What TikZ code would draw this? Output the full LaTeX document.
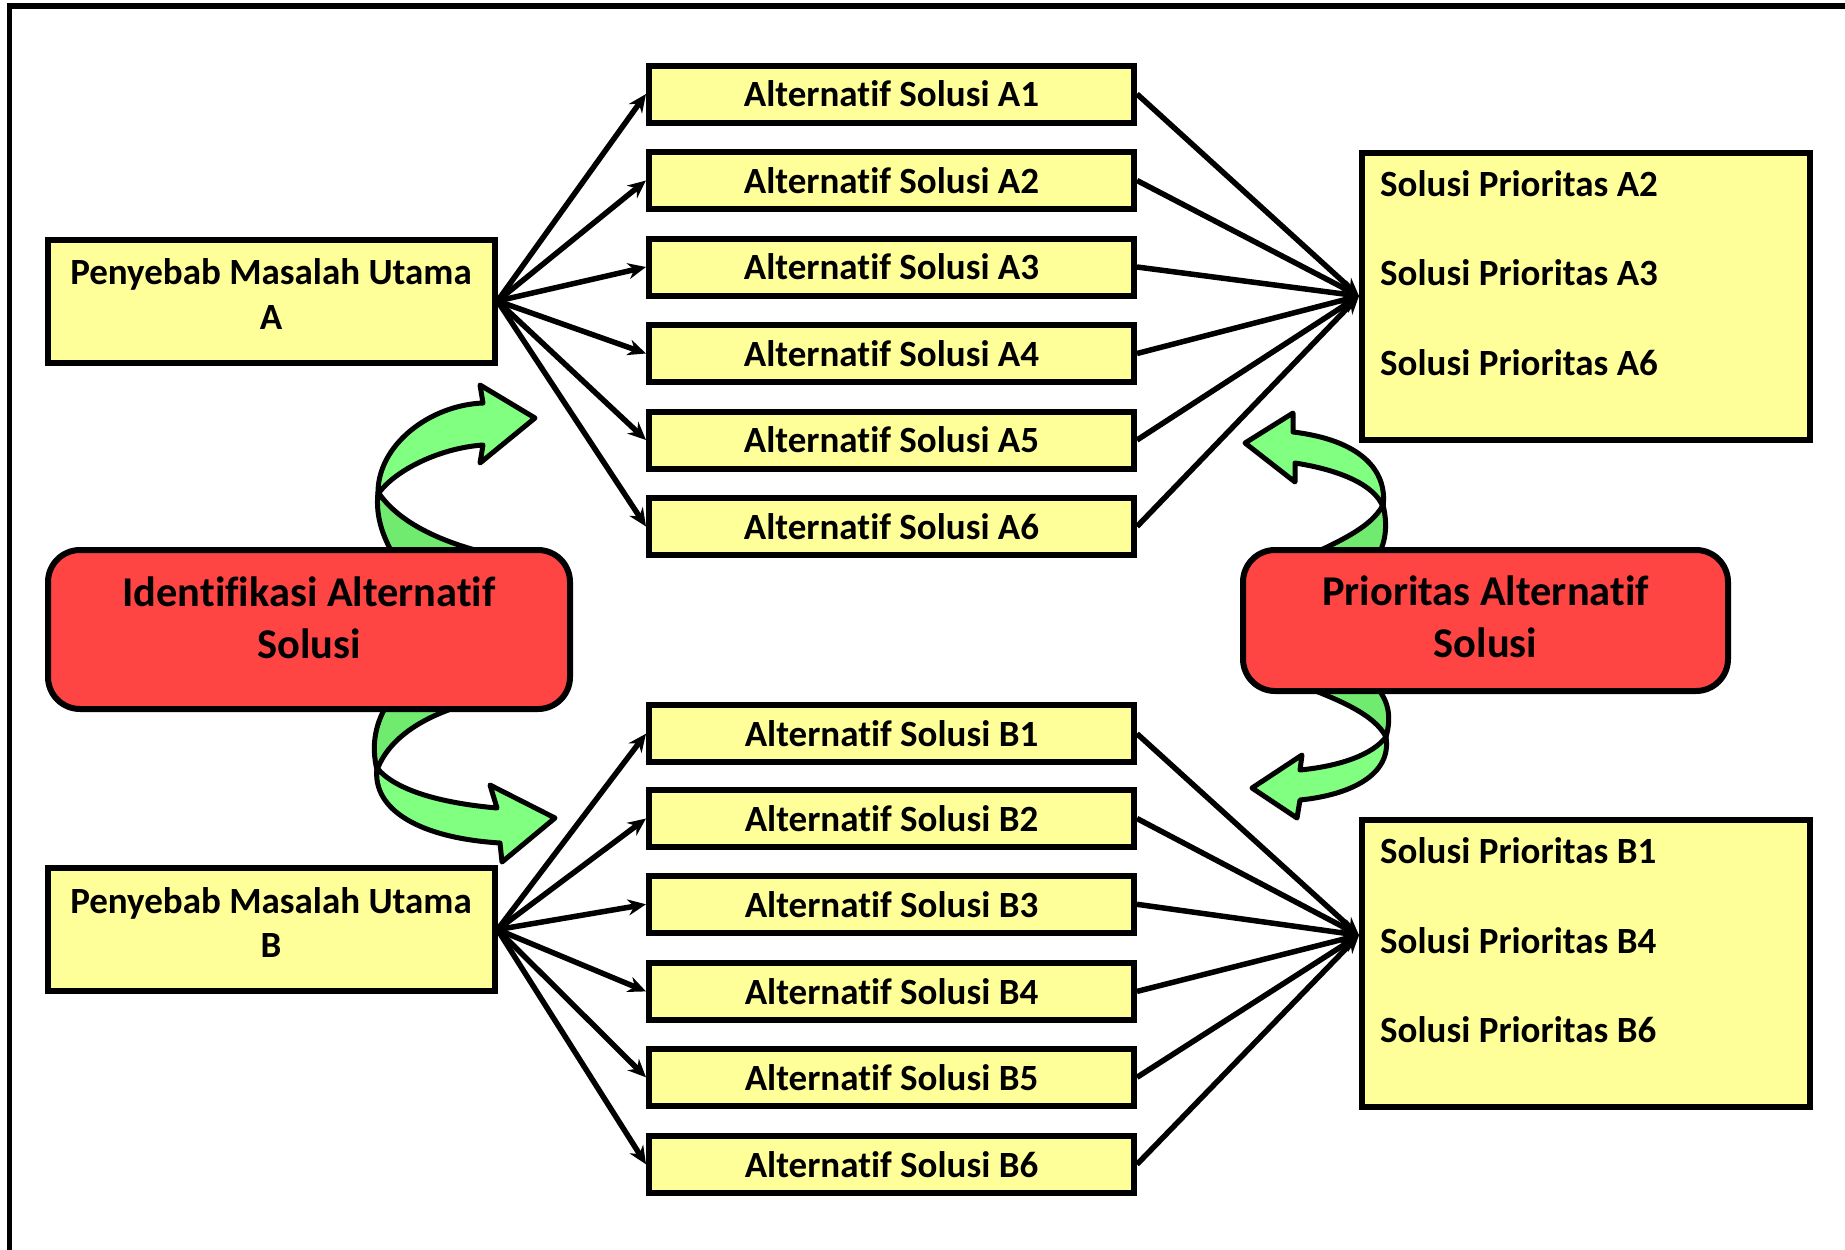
\documentclass[tikz,border=0pt]{standalone}
\usepackage{fontspec}
\setmainfont{Carlito}[Ligatures=NoCommon]
\usetikzlibrary{arrows.meta,calc}
\definecolor{boxyellow}{RGB}{255,255,153}
\definecolor{boxred}{RGB}{255,68,68}
\definecolor{ribbon}{RGB}{128,255,128}
\definecolor{ribbonback}{RGB}{112,235,112}
\begin{document}
\begin{tikzpicture}[x=1pt,y=-1pt,
  altbox/.style={draw, line width=6pt, fill=boxyellow, minimum width=485pt,
    minimum height=57pt, inner sep=0pt, font=\fontsize{37}{44}\selectfont\bfseries},
  causebox/.style={draw, line width=6pt, fill=boxyellow, minimum width=447pt,
    minimum height=123pt, align=center, text depth=14pt,
    font=\fontsize{37}{44.7}\selectfont\bfseries},
  prbox/.style={draw, line width=6pt, fill=boxyellow, minimum width=448pt,
    minimum height=287pt},
  prtext/.style={anchor=west, inner sep=0pt, font=\fontsize{37}{44}\selectfont\bfseries},
  stagebox/.style={draw, line width=6pt, fill=boxred, rounded corners=32pt,
    align=center, font=\fontsize{42.4}{52}\selectfont\bfseries},
  link/.style={line width=5.5pt, -{Stealth[length=18pt,width=16pt]}},
  ribbonfront/.style={draw, line width=5pt, fill=ribbon, line join=round},
  ribbonrear/.style={draw, line width=5pt, fill=ribbonback, line join=round},
]
\useasboundingbox (0,0) rectangle (1845,1250);
\clip (0,0) rectangle (1845,1250);

% outer frame
\draw[line width=5.5pt] (9.5,1260) -- (9.5,6) -- (1860,6);

% causes
\node[causebox] (CA) at (271,301) {Penyebab Masalah Utama\\A};
\node[causebox] (CB) at (271,929.6) {Penyebab Masalah Utama\\B};

% alternative solutions
\node[altbox] (A1) at (891.5,94)    {Alternatif Solusi A1};
\node[altbox] (A2) at (891.5,180.5) {Alternatif Solusi A2};
\node[altbox] (A3) at (891.5,267)   {Alternatif Solusi A3};
\node[altbox] (A4) at (891.5,353.5) {Alternatif Solusi A4};
\node[altbox] (A5) at (891.5,440)   {Alternatif Solusi A5};
\node[altbox] (A6) at (891.5,526.5) {Alternatif Solusi A6};

\node[altbox] (B1) at (891.5,733.7)  {Alternatif Solusi B1};
\node[altbox] (B2) at (891.5,818.5)  {Alternatif Solusi B2};
\node[altbox] (B3) at (891.5,904.3)  {Alternatif Solusi B3};
\node[altbox] (B4) at (891.5,991.4)  {Alternatif Solusi B4};
\node[altbox] (B5) at (891.5,1077.3) {Alternatif Solusi B5};
\node[altbox] (B6) at (891.5,1164.3) {Alternatif Solusi B6};

% priority solutions
\node[prbox] (PA) at (1586,296) {};
\node[prbox] (PB) at (1586,963.7) {};
\node[prtext] (PA1) at (1380,183.6) {Solusi Prioritas A2};
\node[prtext] (PA2) at (1380,273)   {Solusi Prioritas A3};
\node[prtext] (PA3) at (1380,362.4) {Solusi Prioritas A6};
\node[prtext] (PB1) at (1380,850.7)  {Solusi Prioritas B1};
\node[prtext] (PB2) at (1380,940.2)  {Solusi Prioritas B4};
\node[prtext] (PB3) at (1380,1029.6) {Solusi Prioritas B6};

\coordinate (PAin) at (PA.west);
\coordinate (PBin) at ($(PB.west)+(0,-28.5)$);

% connectors
\foreach \i in {1,...,6} {
  \draw[link] (CA.east) -- (A\i.west);
  \draw[link] (A\i.east) -- (PAin);
  \draw[link] (CB.east) -- (B\i.west);
  \draw[link] (B\i.east) -- (PBin);
}

% rear halves of the curved ribbons (tucked behind the stage boxes)
\path[ribbonrear] (378,492) .. controls (375,520) and (385,540) .. (396,560)
  -- (520,560) .. controls (450,548) and (400,525) .. (378,492) -- cycle;
\path[ribbonrear] (377,770) .. controls (371,745) and (375,722) .. (390,700)
  -- (482,700) .. controls (430,712) and (390,735) .. (377,770) -- cycle;
\path[ribbonrear] (1383,505) .. controls (1388,525) and (1386,545) .. (1375,560)
  -- (1300,560) .. controls (1330,545) and (1370,530) .. (1383,505) -- cycle;
\path[ribbonrear] (1386,737) .. controls (1392,715) and (1388,700) .. (1375,685)
  -- (1300,685) .. controls (1340,700) and (1375,715) .. (1386,737) -- cycle;

% stages
\node[stagebox, minimum width=522pt, minimum height=159pt, text depth=23pt]
  (ID) at (309,629.5) {Identifikasi Alternatif\\Solusi};
\node[stagebox, minimum width=485pt, minimum height=141pt, text depth=7pt]
  (PR) at (1485.5,620.5) {Prioritas Alternatif\\Solusi};

% front halves of the curved ribbons with their heads
\path[ribbonfront] (378,494) .. controls (377,445) and (430,405) .. (483,403)
  -- (480,385) -- (535,418) -- (480,463) -- (483,445)
  .. controls (440,448) and (395,470) .. (378,494) -- cycle;
\path[ribbonfront] (377,768) .. controls (372,810) and (420,838) .. (500,843)
  -- (502,862) -- (555,818) -- (490,785) -- (497,808)
  .. controls (440,803) and (395,790) .. (377,768) -- cycle;
\path[ribbonfront] (1383,507) .. controls (1388,470) and (1360,440) .. (1293,432)
  -- (1293,413) -- (1245,443) -- (1295,482) -- (1295,463)
  .. controls (1340,470) and (1375,485) .. (1383,507) -- cycle;
\path[ribbonfront] (1386,737) .. controls (1392,775) and (1350,795) .. (1300,800)
  -- (1297,818) -- (1252,788) -- (1302,755) -- (1300,770)
  .. controls (1340,766) and (1372,755) .. (1386,737) -- cycle;
\end{tikzpicture}
\end{document}
